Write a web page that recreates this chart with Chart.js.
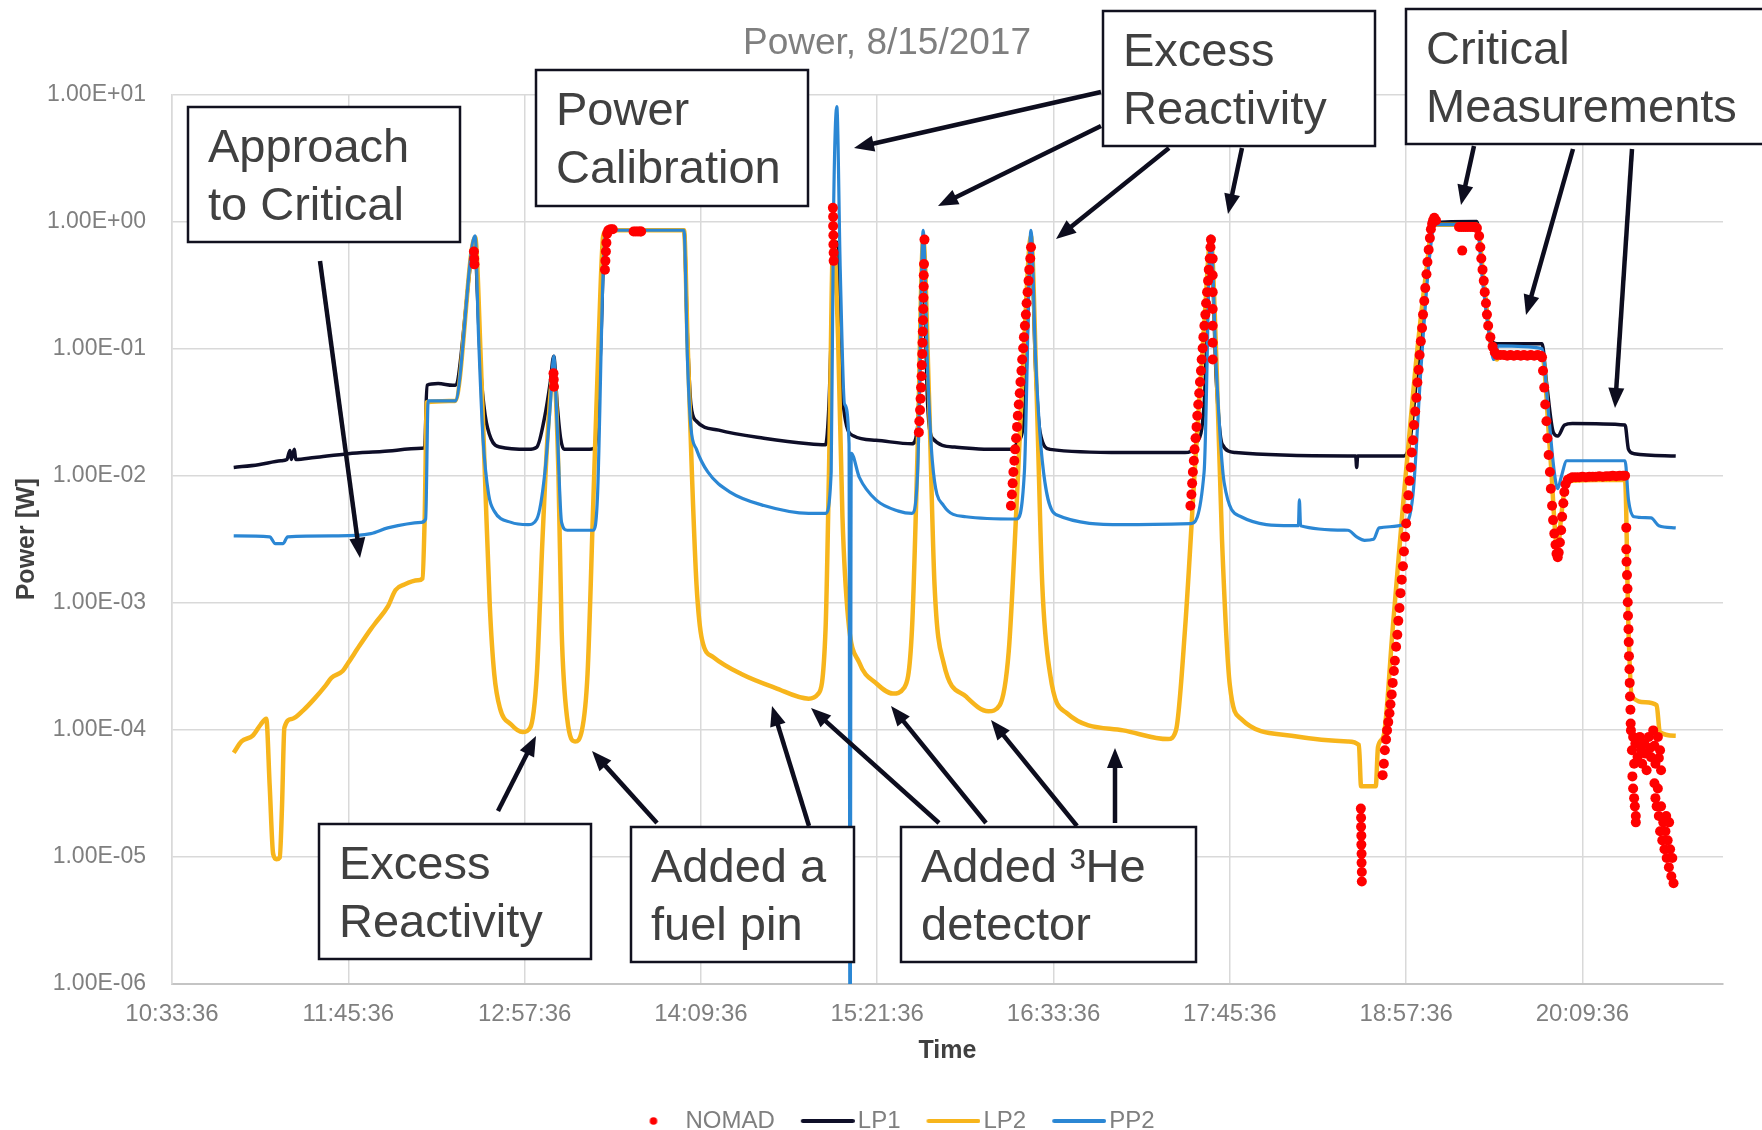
<!DOCTYPE html>
<html>
<head>
<meta charset="utf-8">
<script src="https://cdn.jsdelivr.net/npm/chart.js"></script>
<style>
html,body{margin:0;padding:0;background:#ffffff;}
#wrap{width:1762px;height:1130px;}
</style>
</head>
<body>
<div id="wrap"><canvas id="c" width="1762" height="1130"></canvas></div>
<script>
// ---------- DATA (time = minutes after midnight, power in W) ----------
const xTickLabels = ['10:33:36','11:45:36','12:57:36','14:09:36','15:21:36','16:33:36','17:45:36','18:57:36','20:09:36'];
const yTickValues = [1e-6,1e-5,1e-4,1e-3,1e-2,1e-1,1,10];
const yTickLabels = ['1.00E-06','1.00E-05','1.00E-04','1.00E-03','1.00E-02','1.00E-01','1.00E+00','1.00E+01'];
const seriesNames = ['NOMAD','LP1','LP2','PP2'];

const LP1 = [
[658.8,0.0116],[668.9,0.0122],[678.1,0.0131],[680.5,0.0134],[681.8,0.0158],[682.3,0.0134],[683.6,0.0161],[684.1,0.0134],
[691.8,0.0139],[705.6,0.0149],[719.4,0.0155],[735.4,0.0164],[736.8,0.0168],[737.7,0.0514],[742.3,0.053],[748.3,0.0514],
[749.2,0.0514],[757.4,0.65],[758.3,0.278],[759.7,0.067],[761.5,0.0297],[763.8,0.0197],[767.5,0.0168],[779.0,0.0161],
[782.6,0.0168],[785.9,0.0297],[788.1,0.0546],[789.5,0.0872],[790.9,0.0364],[792.3,0.0197],[793.7,0.0161],[804.2,0.0161],
[806.5,0.0168],[808.8,0.123],[809.7,0.45],[811.1,0.853],[842.7,0.853],[844.1,0.123],[845.5,0.0364],[847.8,0.0268],
[856.9,0.0228],[875.3,0.0197],[893.6,0.0178],[900.5,0.0175],[901.9,0.0364],[903.7,0.45],[905.1,0.69],[906.0,0.123],
[908.3,0.0297],[912.0,0.0205],[921.1,0.019],[935.8,0.0178],[938.1,0.0242],[940.4,0.45],[942.2,0.0364],[944.1,0.0197],
[953.2,0.0168],[967.0,0.0161],[976.2,0.0161],[978.5,0.0178],[981.7,0.0297],[984.4,0.69],[986.3,0.067],[988.1,0.0219],
[992.2,0.0161],[1022.0,0.0152],[1047.3,0.0152],[1051.8,0.0178],[1055.1,0.0364],[1057.8,0.69],[1060.1,0.0546],[1062.4,0.0178],
[1067.9,0.0152],[1113.8,0.0143],[1117.0,0.0143],[1117.4,0.0116],[1117.8,0.0143],[1136.7,0.0143],[1139.0,0.0178],[1142.2,0.067],
[1145.9,0.341],[1148.6,0.98],[1166.5,1.0],[1168.8,0.418],[1172.0,0.123],[1174.7,0.109],[1193.1,0.109],[1194.9,0.0546],
[1197.7,0.0219],[1199.5,0.0205],[1202.3,0.025],[1205.5,0.0257],[1227.0,0.025],[1228.4,0.0161],[1230.7,0.0149],[1247.7,0.0143]
];

const LP2 = [
[658.8,6.6e-5],[662.0,8.1e-5],[666.6,9.0e-5],[669.8,1.1e-4],[672.1,1.22e-4],[673.5,3.6e-5],[674.9,1.06e-5],[676.3,9.6e-6],
[677.6,9.9e-6],[678.5,2.4e-5],[679.5,1.04e-4],[682.7,1.22e-4],[687.3,1.43e-4],[691.8,1.76e-4],[696.4,2.24e-4],[698.7,2.56e-4],
[703.3,2.9e-4],[705.6,3.37e-4],[710.2,4.6e-4],[714.8,6.2e-4],[717.1,7.1e-4],[721.7,9.3e-4],[724.9,1.26e-3],[728.5,1.39e-3],
[734.0,1.5e-3],[735.9,1.55e-3],[736.8,4.75e-3],[737.7,0.0378],[749.2,0.0387],[757.4,0.75],[759.7,0.082],[761.5,8.75e-3],
[763.4,9.3e-4],[765.2,2.75e-4],[767.5,1.49e-4],[772.1,1.1e-4],[776.7,9.6e-5],[779.9,1.04e-4],[782.6,2.75e-4],[784.9,3.16e-3],
[787.2,0.0242],[789.5,0.067],[791.4,0.0107],[792.7,6.2e-4],[795.0,1.22e-4],[798.2,8.1e-5],[801.0,9.9e-5],[803.3,2.75e-4],
[805.6,5.8e-3],[807.9,0.123],[809.7,0.77],[811.1,0.853],[842.7,0.853],[844.1,0.123],[845.9,0.0107],[847.8,1.39e-3],
[850.1,5.07e-4],[854.7,3.73e-4],[866.1,2.75e-4],[879.9,2.14e-4],[893.6,1.76e-4],[897.3,1.9e-4],[900.5,6.2e-4],[901.9,0.0107],
[903.7,0.77],[905.6,0.123],[907.4,4.75e-3],[909.7,7.6e-4],[914.3,3.37e-4],[921.1,2.33e-4],[928.0,1.93e-4],[932.6,2.14e-4],
[935.8,6.2e-4],[938.1,0.0161],[940.4,0.724],[942.7,0.0446],[945.0,1.39e-3],[948.7,3.37e-4],[957.8,1.83e-4],[967.0,1.4e-4],
[971.6,1.56e-4],[975.3,4.13e-4],[978.5,5.8e-3],[981.7,0.123],[984.4,0.77],[986.7,0.0446],[989.0,1.39e-3],[992.2,2.75e-4],
[999.1,1.35e-4],[1022.0,9.9e-5],[1040.4,8.45e-5],[1043.6,9.9e-5],[1047.3,6.2e-4],[1051.8,0.0161],[1055.1,0.151],[1057.8,0.74],
[1060.1,0.082],[1062.4,3.16e-3],[1065.6,2.24e-4],[1070.2,1.22e-4],[1090.8,8.97e-5],[1113.8,8.1e-5],[1118.3,7.6e-5],[1119.2,3.6e-5],
[1125.2,3.6e-5],[1126.1,7.3e-5],[1128.4,8.97e-5],[1132.1,6.2e-4],[1136.7,7.1e-3],[1141.3,0.067],[1145.9,0.418],[1148.6,0.944],
[1166.5,0.944],[1169.7,0.278],[1172.5,0.1],[1174.7,0.082],[1176.1,0.0908],[1193.1,0.0908],[1196.3,0.0161],[1199.5,2.58e-3],
[1200.9,4.75e-3],[1203.2,9.1e-3],[1227.0,9.3e-3],[1228.4,6.2e-4],[1229.8,1.83e-4],[1235.3,1.65e-4],[1239.9,1.56e-4],[1241.2,9.6e-5],
[1247.7,8.97e-5]
];

const PP2 = [
[658.8,3.36e-3],[673.5,3.3e-3],[675.8,2.92e-3],[679.0,2.92e-3],[680.8,3.3e-3],[701.0,3.36e-3],[714.8,3.5e-3],[721.7,3.88e-3],
[735.4,4.29e-3],[737.2,4.56e-3],[738.2,0.0387],[749.2,0.0387],[757.4,0.77],[758.8,0.123],[760.6,0.0197],[762.9,7.13e-3],
[765.2,5.26e-3],[772.1,4.29e-3],[779.0,4.12e-3],[782.6,4.56e-3],[785.9,0.0107],[788.1,0.0364],[789.5,0.0872],[790.9,0.0242],
[792.7,4.29e-3],[795.0,3.72e-3],[805.6,3.72e-3],[807.4,7.13e-3],[809.7,0.418],[811.1,0.853],[842.7,0.853],[844.1,0.082],
[845.5,0.0242],[847.8,0.0161],[852.4,0.0107],[861.5,7.43e-3],[875.3,5.82e-3],[893.6,5.05e-3],[900.5,5.05e-3],[902.8,0.0107],
[903.7,0.944],[905.1,8.0],[906.5,0.418],[908.3,0.0364],[910.1,0.0178],[910.5,1e-7],[911.0,0.0150],[914.3,9.68e-3],
[921.1,6.44e-3],[930.3,5.26e-3],[935.8,5.05e-3],[938.1,0.0107],[940.4,0.853],[942.2,0.067],[944.1,0.0131],[948.7,5.82e-3],
[957.8,4.75e-3],[978.5,4.56e-3],[981.7,0.0107],[984.4,0.853],[986.3,0.082],[989.0,0.0131],[994.5,4.94e-3],[1022.0,4.12e-3],
[1049.5,4.2e-3],[1055.1,0.0107],[1057.8,0.77],[1060.1,0.067],[1063.3,8.75e-3],[1070.2,4.75e-3],[1090.8,4.04e-3],[1093.6,4.04e-3],
[1094.0,6.44e-3],[1094.5,4.04e-3],[1113.8,3.72e-3],[1117.4,3.3e-3],[1120.6,3.1e-3],[1124.3,3.16e-3],[1126.6,3.88e-3],[1136.7,4.12e-3],
[1140.4,7.13e-3],[1143.6,0.067],[1146.8,0.45],[1149.5,0.944],[1166.5,0.944],[1168.8,0.341],[1172.0,0.111],[1173.4,0.082],
[1175.2,0.105],[1193.1,0.1],[1195.4,0.0364],[1198.1,0.0107],[1199.5,7.9e-3],[1200.9,9.7e-3],[1203.2,0.0131],[1227.0,0.0131],
[1228.4,6.44e-3],[1230.7,4.75e-3],[1237.6,4.65e-3],[1240.8,4.04e-3],[1247.7,3.88e-3]
];

const NOMAD = [
[756.9,0.58],[757.0,0.51],[757.1,0.46],
[789.4,0.064],[789.5,0.057],[789.6,0.050],
[810.4,0.418],[810.6,0.49],[810.8,0.58],[811.0,0.68],[811.3,0.80],[811.8,0.853],[812.7,0.87],[813.6,0.87],
[822.1,0.835],[823.0,0.835],[823.9,0.835],[824.8,0.835],[825.2,0.835],
[903.5,1.28],[903.6,1.09],[903.6,0.92],[903.7,0.78],[903.7,0.66],[903.8,0.567],[903.8,0.49],
[938.6,0.0219],[938.8,0.0268],[939.1,0.0328],[939.3,0.0403],[939.5,0.0493],[939.7,0.0605],[939.8,0.0741],[940.0,0.0908],
[940.1,0.111],[940.2,0.136],[940.3,0.167],[940.4,0.205],[940.5,0.251],[940.6,0.308],[940.6,0.377],[940.7,0.462],[940.9,0.72],
[976.2,5.8e-3],[976.6,7.1e-3],[976.9,8.7e-3],[977.2,0.0107],[977.6,0.0131],[977.9,0.0161],[978.3,0.0197],[978.7,0.0242],
[979.0,0.0296],[979.4,0.0363],[979.8,0.0445],[980.1,0.0546],[980.5,0.0669],[980.8,0.082],[981.2,0.1005],[981.5,0.123],
[981.9,0.151],[982.3,0.185],[982.6,0.227],[983.0,0.278],[983.4,0.341],[983.7,0.418],[984.1,0.512],[984.4,0.628],
[1049.5,5.8e-3],[1049.9,7.1e-3],[1050.2,8.7e-3],[1050.5,0.0107],[1050.9,0.0131],[1051.2,0.0161],[1051.6,0.0197],[1052.0,0.0242],
[1052.3,0.0296],[1052.7,0.0363],[1053.1,0.0445],[1053.4,0.0546],[1053.8,0.0669],[1054.1,0.082],[1054.5,0.1005],[1054.8,0.123],
[1055.2,0.151],[1055.6,0.185],[1055.9,0.227],[1056.3,0.278],[1056.7,0.341],[1057.0,0.418],[1057.4,0.512],[1057.7,0.628],
[1057.9,0.72],[1058.6,0.51],[1058.6,0.377],[1058.6,0.278],[1058.6,0.205],[1058.6,0.151],[1058.6,0.111],[1058.6,0.082],
[1119.1,2.4e-5],[1119.2,2.03e-5],[1119.2,1.73e-5],[1119.3,1.47e-5],[1119.3,1.25e-5],[1119.4,1.06e-5],[1119.4,9.0e-6],[1119.5,7.6e-6],[1119.5,6.4e-6],
[1128.0,4.4e-5],[1128.5,5.4e-5],[1128.9,6.9e-5],[1129.4,8.4e-5],[1129.8,9.9e-5],[1130.3,1.15e-4],[1130.8,1.35e-4],[1131.2,1.59e-4],
[1131.7,1.9e-4],[1132.1,2.34e-4],[1132.6,2.9e-4],[1133.0,3.5e-4],[1133.5,4.5e-4],[1134.0,5.6e-4],[1134.4,7.2e-4],[1134.9,9.1e-4],
[1135.3,1.19e-3],[1135.8,1.52e-3],[1136.3,1.94e-3],[1136.7,2.53e-3],[1137.2,3.3e-3],[1137.6,4.2e-3],[1138.1,5.5e-3],[1138.5,7.0e-3],
[1139.0,9.1e-3],[1139.5,0.0116],[1139.9,0.0152],[1140.4,0.019],[1140.8,0.025],[1141.3,0.032],[1141.8,0.041],[1142.2,0.054],
[1142.7,0.068],[1143.1,0.089],[1143.6,0.114],[1144.1,0.145],[1144.5,0.185],[1145.0,0.237],[1145.4,0.30],[1145.9,0.385],
[1146.3,0.48],[1146.8,0.60],[1147.3,0.74],[1147.7,0.87],[1148.2,0.96],[1148.6,1.02],
[1149.1,1.07],[1149.8,1.02],[1159.2,0.905],[1160.1,0.905],[1161.0,0.905],[1161.9,0.905],[1162.8,0.905],[1163.8,0.905],
[1164.7,0.905],[1165.6,0.905],[1166.5,0.887],[1160.5,0.59],
[1167.4,0.77],[1167.9,0.628],[1168.3,0.512],[1168.8,0.418],[1169.3,0.341],[1169.7,0.278],[1170.2,0.227],[1170.6,0.185],
[1171.1,0.151],[1172.0,0.123],[1172.9,0.1036],[1173.8,0.0935],[1174.7,0.089],
[1176.1,0.089],[1177.5,0.089],[1178.9,0.088],[1180.2,0.089],[1181.6,0.088],[1183.0,0.089],[1184.4,0.088],[1185.7,0.089],
[1187.1,0.088],[1188.5,0.089],[1189.9,0.088],[1191.3,0.089],[1192.6,0.088],
[1193.1,0.0853],[1193.5,0.0669],[1194.0,0.0493],[1194.4,0.0363],[1194.9,0.0268],[1195.3,0.0197],[1195.8,0.01455],[1196.3,0.0107],
[1196.7,0.0079],[1197.2,0.0058],[1197.6,0.00447],[1198.1,0.0035],[1198.6,0.00286],[1199.0,0.00243],[1199.5,0.00228],[1199.9,0.00248],
[1200.4,0.00298],[1200.9,0.00372],[1201.3,0.00475],[1201.8,0.00607],[1202.2,0.00743],[1202.7,0.00857],[1203.6,0.0093],[1204.5,0.0095],
[1205.5,0.0097],[1206.9,0.0097],[1208.3,0.0097],[1209.6,0.0098],[1211.0,0.0097],[1212.4,0.0098],[1213.8,0.0098],[1215.1,0.0098],
[1216.5,0.0099],[1217.9,0.0098],[1219.3,0.0099],[1220.7,0.0099],[1222.0,0.0100],[1223.4,0.0099],[1224.8,0.0100],[1226.2,0.0100],[1227.0,0.0100],
[1227.5,0.0039],
[1227.5,0.00263],[1227.6,0.0021],[1227.8,0.00165],[1228.0,0.00129],[1228.1,0.00101],[1228.2,7.9e-4],[1228.4,6.2e-4],[1228.5,4.9e-4],
[1228.6,3.8e-4],[1228.8,3.0e-4],[1228.9,2.34e-4],[1229.0,1.83e-4],[1229.2,1.44e-4],[1229.3,1.12e-4],
[1229.4,9.9e-5],[1229.8,6.9e-5],[1230.3,8.8e-5],[1230.7,5.4e-5],[1231.2,7.8e-5],[1232.1,6.1e-5],[1233.0,8.8e-5],[1234.0,5.4e-5],
[1234.9,7.8e-5],[1235.8,4.8e-5],[1236.7,8.8e-5],[1237.6,6.1e-5],[1238.5,9.9e-5],[1239.4,5.4e-5],[1240.4,8.8e-5],[1241.3,6.9e-5],
[1241.7,4.8e-5],[1233.5,7.0e-5],[1235.3,6.5e-5],[1237.2,7.2e-5],[1239.0,7.5e-5],[1240.8,6.0e-5],
[1230.0,4.3e-5],[1230.3,3.45e-5],[1230.7,2.9e-5],[1231.0,2.5e-5],[1231.4,2.1e-5],[1231.4,1.87e-5],
[1239.0,3.8e-5],[1239.4,2.9e-5],[1239.9,2.5e-5],[1240.4,3.45e-5],[1240.8,2.1e-5],[1241.3,1.59e-5],[1241.7,2.5e-5],[1242.2,1.35e-5],
[1242.6,1.87e-5],[1243.1,1.15e-5],[1243.5,1.59e-5],[1244.0,9.8e-6],[1244.4,1.35e-5],[1244.9,8.3e-6],[1245.4,1.15e-5],[1245.9,7.05e-6],
[1246.3,9.8e-6],[1246.8,6.2e-6],[1245.0,1.87e-5],[1243.8,2.1e-5]
];

// ---------- ANNOTATIONS (canvas pixels) ----------
const noteBoxes = [
  {x:188, y:107, w:272, h:135, lines:['Approach','to Critical']},
  {x:536, y:70,  w:272, h:136, lines:['Power','Calibration']},
  {x:1103,y:11,  w:272, h:135, lines:['Excess','Reactivity']},
  {x:1406,y:9,   w:400, h:135, lines:['Critical','Measurements']},
  {x:319, y:824, w:272, h:135, lines:['Excess','Reactivity']},
  {x:631, y:827, w:223, h:135, lines:['Added a','fuel pin']},
  {x:901, y:827, w:295, h:135, lines:['Added \u00B3He','detector']}
];
const noteArrows = [
  [320,261,360,558],[1101,92,854,148],[1101,126,938,206],[1169,148,1056,239],[1242,148,1228,214],
  [1474,146,1461,205],[1573,149,1526,315],[1632,149,1615,408],
  [498,811,536,736],[657,823,592,751],[809,826,772,706],[939,823,811,708],[986,823,891,706],
  [1077,826,991,720],[1115,823,1115,748]
];

// ---------- helpers ----------
const FONT = "'Liberation Sans', Arial, sans-serif";
const toMin = s => { const p = s.split(':').map(Number); return p[0]*60 + p[1] + p[2]/60; };
const xTickValues = xTickLabels.map(toMin);
const xMin = xTickValues[0];
const xMax = 1267;
const pts = arr => arr.map(([t, v]) => ({x: t, y: v}));

const COLORS = {NOMAD:'#ff0000', LP1:'#0e0e28', LP2:'#f7b51c', PP2:'#2b87d4'};

function makeIcon(kind, color) {
  const c = document.createElement('canvas');
  c.width = 62; c.height = 10;
  const g = c.getContext('2d');
  if (kind === 'dot') {
    g.fillStyle = color; g.beginPath(); g.arc(33, 5, 3.8, 0, Math.PI*2); g.fill();
  } else {
    g.strokeStyle = color; g.lineWidth = 4; g.lineCap = 'round';
    g.beginPath(); g.moveTo(10, 5); g.lineTo(60, 5); g.stroke();
  }
  return c;
}
const icons = [makeIcon('dot', COLORS.NOMAD), makeIcon('line', COLORS.LP1), makeIcon('line', COLORS.LP2), makeIcon('line', COLORS.PP2)];

const notesPlugin = {
  id: 'notes',
  afterDraw(chart) {
    const ctx = chart.ctx;
    ctx.save();
    ctx.strokeStyle = '#0d0d1e'; ctx.fillStyle = '#0d0d1e';
    noteArrows.forEach(([x1, y1, x2, y2]) => {
      const dx = x2 - x1, dy = y2 - y1, L = Math.hypot(dx, dy);
      const ux = dx / L, uy = dy / L;
      const hl = 20, hw = 8;
      const bx = x2 - ux * hl, by = y2 - uy * hl;
      ctx.lineWidth = 4.5; ctx.lineCap = 'butt';
      ctx.beginPath(); ctx.moveTo(x1, y1); ctx.lineTo(bx + ux*3, by + uy*3); ctx.stroke();
      ctx.beginPath();
      ctx.moveTo(x2, y2);
      ctx.lineTo(bx - uy * hw, by + ux * hw);
      ctx.lineTo(bx + uy * hw, by - ux * hw);
      ctx.closePath(); ctx.fill();
    });
    noteBoxes.forEach(b => {
      ctx.fillStyle = '#ffffff';
      ctx.fillRect(b.x, b.y, b.w, b.h);
      ctx.lineWidth = 2.5; ctx.strokeStyle = '#11111f';
      ctx.strokeRect(b.x, b.y, b.w, b.h);
      ctx.fillStyle = '#404040';
      ctx.font = '47px ' + FONT;
      ctx.textBaseline = 'middle'; ctx.textAlign = 'left';
      ctx.fillText(b.lines[0], b.x + 20, b.y + 42);
      ctx.fillText(b.lines[1], b.x + 20, b.y + 100);
    });
    ctx.restore();
  }
};
const blockShift = {
  id: 'blockShift',
  afterLayout(chart) {
    const l = chart.legend;
    if (l) { l.top += 13; l.bottom += 13; l.left += 11; l.right += 11; }
    const t = chart.titleBlock;
    if (t) { t.left += 6; t.right += 6; }
  }
};

new Chart(document.getElementById('c'), {
  type: 'line',
  data: {
    datasets: [
      {label: seriesNames[0], data: pts(NOMAD), showLine: false, pointRadius: 5, pointHoverRadius: 5,
       pointBackgroundColor: COLORS.NOMAD, pointBorderWidth: 0, borderColor: COLORS.NOMAD, order: 0},
      {label: seriesNames[1], data: pts(LP1), borderColor: COLORS.LP1, borderWidth: 3.5, pointRadius: 0, order: 3,
       cubicInterpolationMode: 'monotone'},
      {label: seriesNames[2], data: pts(LP2), borderColor: COLORS.LP2, borderWidth: 4.5, pointRadius: 0, order: 2,
       cubicInterpolationMode: 'monotone'},
      {label: seriesNames[3], data: pts(PP2), borderColor: COLORS.PP2, borderWidth: 3.2, pointRadius: 0, order: 1,
       cubicInterpolationMode: 'monotone'}
    ]
  },
  options: {
    responsive: false,
    animation: false,
    devicePixelRatio: 1,
    layout: {padding: 0},
    elements: {line: {borderJoinStyle: 'round'}},
    scales: {
      x: {
        type: 'linear', min: xMin, max: xMax,
        afterBuildTicks: s => { s.ticks = xTickValues.map(v => ({value: v})); },
        afterFit: s => { s.height = 85; },
        ticks: {callback: (v, i) => xTickLabels[i], autoSkip: false, maxRotation: 0, padding: 16,
                color: '#7f7f7f', font: {family: FONT, size: 24}},
        grid: {color: '#d9d9d9', lineWidth: 1.5, drawTicks: false},
        border: {color: '#c4c4c4', width: 2},
        title: {display: true, text: 'Time', color: '#404040', font: {family: FONT, size: 25, weight: 'bold'},
                padding: {top: 4, bottom: 3}}
      },
      y: {
        type: 'logarithmic', min: 1e-6, max: 10,
        afterBuildTicks: s => { s.ticks = yTickValues.map(v => ({value: v})); },
        afterFit: s => { s.width = 172; },
        ticks: {callback: (v, i) => yTickLabels[i], padding: 26, color: '#7f7f7f', font: {family: FONT, size: 23}},
        grid: {color: '#d9d9d9', lineWidth: 1.5, drawTicks: false},
        border: {color: '#d9d9d9', width: 1.5},
        title: {display: true, text: 'Power [W]', color: '#404040', font: {family: FONT, size: 25, weight: 'bold'},
                padding: {top: 12, bottom: 4}}
      },
      yRight: {
        type: 'linear', position: 'right', display: true,
        afterFit: s => { s.width = 39; },
        ticks: {display: false}, grid: {display: false}, border: {display: false}
      }
    },
    plugins: {
      title: {display: true, text: 'Power, 8/15/2017', color: '#7f7f7f',
              font: {family: FONT, size: 37, weight: 'normal'}, padding: {top: 21.3, bottom: 28.7}},
      legend: {
        position: 'bottom',
        labels: {
          usePointStyle: true, pointStyleWidth: 44, padding: 27,
          font: {family: FONT, size: 24}, color: '#7f7f7f',
          generateLabels: chart => chart.data.datasets.map((ds, i) => ({
            text: ds.label, pointStyle: icons[i], fillStyle: 'rgba(0,0,0,0)', strokeStyle: 'rgba(0,0,0,0)',
            lineWidth: 0, hidden: false, datasetIndex: i, fontColor: '#7f7f7f'
          }))
        }
      },
      tooltip: {enabled: false}
    }
  },
  plugins: [notesPlugin, blockShift]
});
</script>
</body>
</html>
